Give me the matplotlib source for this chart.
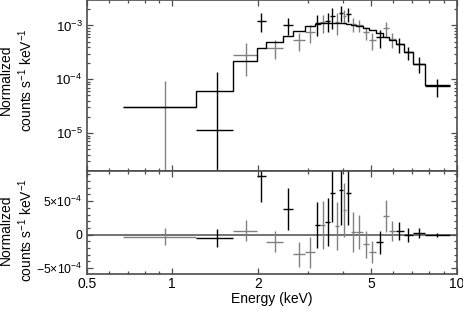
import numpy as np
import matplotlib
matplotlib.use('Agg')
import matplotlib.pyplot as plt
from matplotlib.ticker import FixedLocator, FixedFormatter, NullFormatter, MultipleLocator

plt.rcParams['font.family'] = ['Liberation Sans', 'DejaVu Sans']
plt.rcParams['mathtext.fontset'] = 'custom'
plt.rcParams['mathtext.rm'] = 'Liberation Sans'
plt.rcParams['mathtext.it'] = 'Liberation Sans:italic'
plt.rcParams['mathtext.bf'] = 'Liberation Sans:bold'
plt.rcParams['mathtext.default'] = 'regular'

# ---- data (energies in keV) ----
# black spectrum
blk_e   = [1.434, 2.058, 2.561, 3.239, 3.532, 3.658, 3.925, 4.154, 5.381, 6.294, 6.738, 7.366, 8.564]
blk_lo  = [1.209, 1.983, 2.459, 3.179, 3.455, 3.590, 3.856, 4.094, 5.210, 6.103, 6.512, 7.033, 7.750]
blk_hi  = [1.640, 2.133, 2.653, 3.310, 3.590, 3.723, 3.980, 4.246, 5.514, 6.512, 7.033, 7.750, 9.488]
blk_y   = [1.16e-5, 1.22e-3, 1.01e-3, 1.09e-3, 1.22e-3, 1.49e-3, 1.72e-3, 1.62e-3, 5.98e-4, 4.43e-4, 3.14e-4, 1.96e-4, 7.5e-5]
blk_err = [1.25e-4, 4.55e-4, 3.37e-4, 4.66e-4, 4.55e-4, 6.5e-4, 5.7e-4, 4.5e-4, 2.2e-4, 1.3e-4, 8.5e-5, 6.4e-5, 2.8e-5]
blk_res = [-4.5e-5, 8.76e-4, 3.79e-4, 1.45e-4, 1.85e-4, 6.18e-4, 6.67e-4, 6.18e-4, -1.13e-4, 5.5e-5, -4.5e-6, 2.1e-5, -4.5e-6]
blk_rer = [1.34e-4, 3.93e-4, 3.11e-4, 3.48e-4, 3.61e-4, 4.24e-4, 5.2e-4, 4.73e-4, 1.74e-4, 1.32e-4, 1.09e-4, 7.5e-5, 2.5e-5]

# grey spectrum
gry_e   = [0.943, 1.818, 2.293, 2.786, 3.053, 3.383, 3.790, 4.031, 4.337, 4.541, 4.806, 5.057, 5.636, 5.918]
gry_lo  = [0.673, 1.640, 2.133, 2.653, 2.932, 3.310, 3.723, 3.980, 4.246, 4.433, 4.672, 4.924, 5.514, 5.774]
gry_hi  = [1.209, 1.983, 2.459, 2.932, 3.179, 3.455, 3.856, 4.094, 4.433, 4.672, 4.924, 5.210, 5.774, 6.103]
gry_y   = [3.01e-5, 2.88e-4, 3.83e-4, 5.26e-4, 7.41e-4, 1.14e-3, 1.17e-3, 1.49e-3, 1.06e-3, 1.01e-3, 7.41e-4, 5.32e-4, 8.79e-4, 5.49e-4]
gry_err = [6.2e-5, 1.74e-4, 1.49e-4, 1.84e-4, 2.72e-4, 4.18e-4, 5.06e-4, 4.37e-4, 2.93e-4, 2.42e-4, 2.0e-4, 1.78e-4, 2.88e-4, 1.61e-4]
gry_res = [-3.0e-5, 6.0e-5, -1.04e-4, -2.93e-4, -2.63e-4, 1.45e-4, 1.34e-4, 3.69e-4, 4.0e-5, 3.6e-5, -1.43e-4, -2.63e-4, 2.79e-4, 5.5e-5]
gry_rer = [1.29e-4, 1.62e-4, 1.54e-4, 1.90e-4, 2.31e-4, 3.60e-4, 3.56e-4, 3.98e-4, 3.03e-4, 2.56e-4, 2.04e-4, 1.66e-4, 2.44e-4, 1.54e-4]

# model step
model_edges = [0.673, 1.209, 1.640, 1.983, 2.133, 2.459, 2.653, 2.932, 3.179, 3.310, 3.455, 3.590, 3.723, 3.856,
               3.980, 4.094, 4.246, 4.433, 4.672, 4.924, 5.210, 5.514, 5.774, 6.103, 6.512, 7.033, 7.750, 9.488]
model_vals = [3.0e-5, 6.05e-5, 2.21e-4, 3.78e-4, 4.84e-4, 6.40e-4, 8.00e-4, 9.83e-4, 1.07e-3, 1.10e-3, 1.12e-3, 1.13e-3,
              1.13e-3, 1.12e-3, 1.10e-3, 1.07e-3, 1.03e-3, 9.8e-4, 9.0e-4, 8.1e-4, 7.2e-4, 6.2e-4, 5.4e-4, 4.5e-4,
              3.2e-4, 1.9e-4, 7.7e-5]

res_ticks = [-5e-4, 0, 5e-4]
res_labels = ['\u22125\u00d710$^{-4}$', '0', '5\u00d710$^{-4}$']

fig = plt.figure(figsize=(4.63, 3.11), dpi=100)
ax1 = fig.add_axes([0.1873, 0.4486, 0.7987, 0.5498])
ax2 = fig.add_axes([0.1873, 0.119, 0.7987, 0.3296], sharex=ax1)

grey = '0.5'
sets = [(gry_e, gry_lo, gry_hi, gry_y, gry_err, gry_res, gry_rer, grey),
        (blk_e, blk_lo, blk_hi, blk_y, blk_err, blk_res, blk_rer, 'k')]

ax1.stairs(model_vals, model_edges, baseline=None, color='k', lw=1.0, zorder=3)
ax2.axhline(0, color='0.45', lw=1.4, zorder=1)

for e, lo, hi, y, err, res, rer, c in sets:
    e = np.array(e)
    xe = [e - np.array(lo), np.array(hi) - e]
    ax1.errorbar(e, y, xerr=xe, yerr=err, fmt='none', ecolor=c, elinewidth=1.0, capsize=0)
    ax2.errorbar(e, res, xerr=xe, yerr=rer, fmt='none', ecolor=c, elinewidth=1.0, capsize=0)

ax1.set_xscale('log')
ax1.set_xlim(0.5, 10)
ax1.set_yscale('log')
ax1.set_ylim(1.94e-6, 2.9e-3)
ax2.set_ylim(-5.87e-4, 9.43e-4)

ax2.xaxis.set_major_locator(FixedLocator([0.5, 1, 2, 5, 10]))
ax2.xaxis.set_major_formatter(FixedFormatter(['0.5', '1', '2', '5', '10']))
ax2.xaxis.set_minor_locator(FixedLocator([0.6, 0.7, 0.8, 0.9, 3, 4, 6, 7, 8, 9]))
ax2.xaxis.set_minor_formatter(NullFormatter())

ax2.yaxis.set_major_locator(FixedLocator(res_ticks))
ax2.yaxis.set_major_formatter(FixedFormatter(res_labels))
ax2.yaxis.set_minor_locator(MultipleLocator(1e-4))

scol = '0.3'
for ax in (ax1, ax2):
    for s in ax.spines.values():
        s.set_color(scol)
        s.set_linewidth(1.2)
    ax.tick_params(which='both', direction='in', top=True, right=True, color=scol, labelsize=10, width=0.9)
    ax.tick_params(which='major', length=4, pad=3)
    ax.tick_params(which='minor', length=2.2)
ax1.tick_params(labelbottom=False)
ax1.tick_params(axis='y', labelsize=9.5)
ax2.tick_params(axis='x', pad=2)
ax2.tick_params(axis='y', labelsize=8.8)

ax2.set_xlabel('Energy (keV)', fontsize=10, labelpad=1)
ylab = 'Normalized\ncounts s$^{-1}$ keV$^{-1}$'
fig.text(0.037, 1 - 80 / 311, ylab, rotation=90, ha='center', va='center',
         multialignment='center', fontsize=10, linespacing=1.25)
fig.text(0.037, 1 - 230 / 311, ylab, rotation=90, ha='center', va='center',
         multialignment='center', fontsize=10, linespacing=1.25)

fig.savefig('out.png', dpi=100)
